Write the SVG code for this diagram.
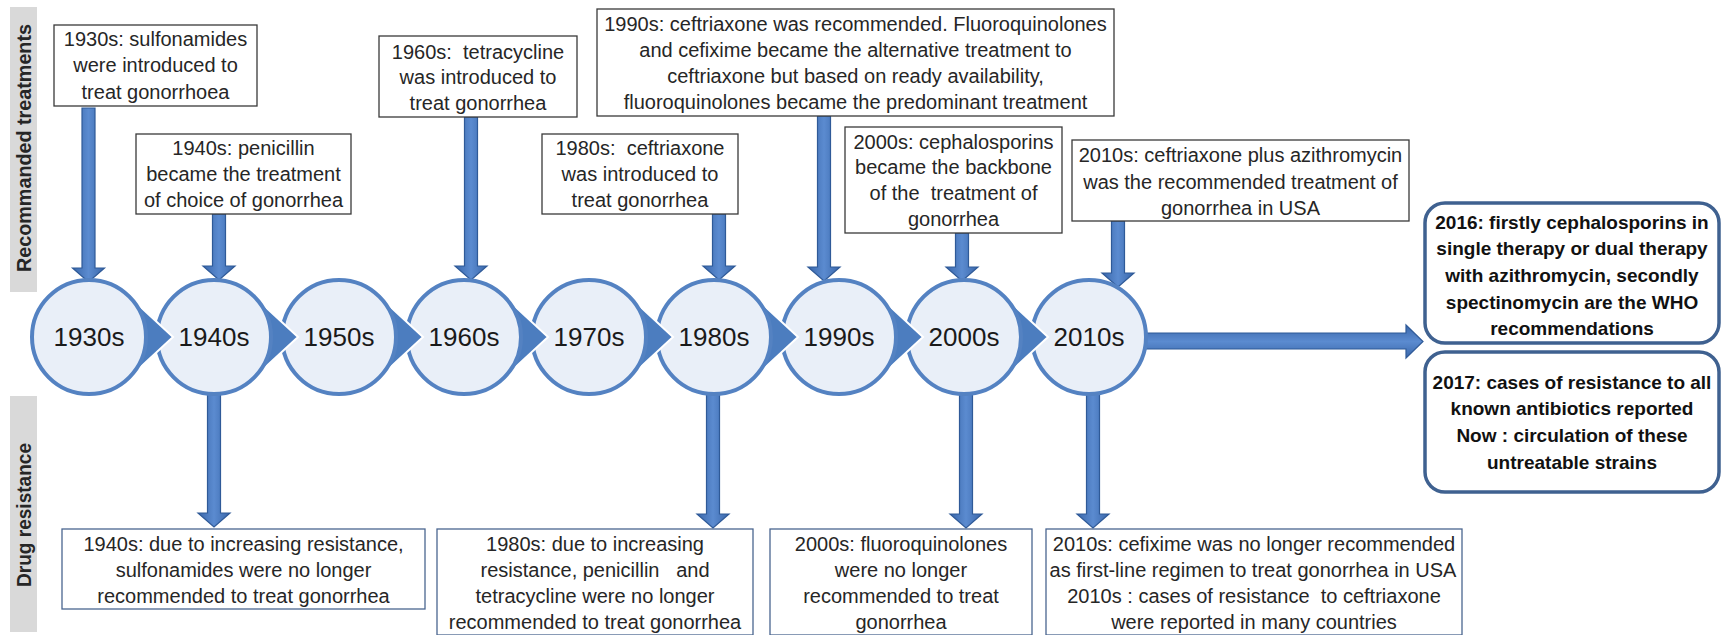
<svg xmlns="http://www.w3.org/2000/svg" width="1722" height="635" viewBox="0 0 1722 635">
<style>
.bar{fill:#d9d9d9}
.side{font-family:"Liberation Sans",Arial,sans-serif;font-weight:bold;font-size:20px;fill:#262626;text-anchor:middle}
.box{fill:#ffffff;stroke:#3a3a3a;stroke-width:1.3}
.boxb{fill:#ffffff;stroke:#4a6690;stroke-width:1.3}
.t{font-family:"Liberation Sans",Arial,sans-serif;font-size:20px;fill:#262626;text-anchor:middle}
.rb{fill:#ffffff;stroke:#3f6190;stroke-width:3.5}
.tb{font-family:"Liberation Sans",Arial,sans-serif;font-size:19px;font-weight:bold;fill:#111;text-anchor:middle}
.circ{fill:#e9eff8;stroke:#5482c2;stroke-width:4}
.ptr{fill:#4c7dbf;stroke:#ffffff;stroke-width:2;stroke-linejoin:miter}
.yr{font-family:"Liberation Sans",Arial,sans-serif;font-size:26px;fill:#1a1a1a;text-anchor:middle}
.arr{fill:url(#gv);stroke:#2f5a98;stroke-width:1.2}
.arrh{fill:url(#gh);stroke:#2f5a98;stroke-width:1.2}
</style>
<defs>
<linearGradient id="gv" x1="0" y1="0" x2="1" y2="0">
<stop offset="0" stop-color="#3a67aa"/><stop offset="0.5" stop-color="#5b8bd0"/><stop offset="1" stop-color="#3a67aa"/>
</linearGradient>
<linearGradient id="gh" x1="0" y1="0" x2="0" y2="1">
<stop offset="0" stop-color="#3a67aa"/><stop offset="0.5" stop-color="#5b8bd0"/><stop offset="1" stop-color="#3a67aa"/>
</linearGradient>
</defs>

<g id="side-labels">
<rect class="bar" x="10" y="7" width="27" height="285"/>
<text class="side" transform="translate(31,148) rotate(-90)" textLength="248" lengthAdjust="spacingAndGlyphs">Recommanded treatments</text>
<rect class="bar" x="10" y="396" width="27" height="236"/>
<text class="side" transform="translate(31,515) rotate(-90)" textLength="144" lengthAdjust="spacingAndGlyphs">Drug resistance</text>
</g>

<g id="connectors">
<path class="arr" d="M82,108 H95 V268 H104.5 L88.5,282 L72.5,268 H82 Z"/>
<path class="arr" d="M212.5,214 H225.5 V266 H235 L219,280 L203,266 H212.5 Z"/>
<path class="arr" d="M464.5,117 H477.5 V266 H487 L471,280 L455,266 H464.5 Z"/>
<path class="arr" d="M712.5,214 H725.5 V266 H735 L719,280 L703,266 H712.5 Z"/>
<path class="arr" d="M817.5,116 H830.5 V267 H840 L824,281 L808,267 H817.5 Z"/>
<path class="arr" d="M955.5,233 H968.5 V267 H978 L962,281 L946,267 H955.5 Z"/>
<path class="arr" d="M1111.5,221 H1124.5 V273 H1134 L1118,287 L1102,273 H1111.5 Z"/>
<path class="arr" d="M207.5,393 H220.5 V513 H230 L214,527 L198,513 H207.5 Z"/>
<path class="arr" d="M706.5,393 H719.5 V514 H729 L713,528 L697,514 H706.5 Z"/>
<path class="arr" d="M959.5,393 H972.5 V514 H982 L966,528 L950,514 H959.5 Z"/>
<path class="arr" d="M1086.5,393 H1099.5 V514 H1109 L1093,528 L1077,514 H1086.5 Z"/>
<path class="arrh" d="M1146,333 V349 H1406 V358 L1423,341.5 L1406,325 V333 Z"/>
</g>

<g id="timeline">
<g id="n2010s"><circle class="circ" cx="1089" cy="337" r="57"/><text class="yr" x="1089" y="346">2010s</text></g>
<g id="n2000s"><path class="ptr" d="M1002.7,295.1 L1048,337 L1002.7,378.9 Z"/><circle class="circ" cx="964" cy="337" r="57"/><text class="yr" x="964" y="346">2000s</text></g>
<g id="n1990s"><path class="ptr" d="M877.7,295.1 L923,337 L877.7,378.9 Z"/><circle class="circ" cx="839" cy="337" r="57"/><text class="yr" x="839" y="346">1990s</text></g>
<g id="n1980s"><path class="ptr" d="M752.7,295.1 L798,337 L752.7,378.9 Z"/><circle class="circ" cx="714" cy="337" r="57"/><text class="yr" x="714" y="346">1980s</text></g>
<g id="n1970s"><path class="ptr" d="M627.7,295.1 L673,337 L627.7,378.9 Z"/><circle class="circ" cx="589" cy="337" r="57"/><text class="yr" x="589" y="346">1970s</text></g>
<g id="n1960s"><path class="ptr" d="M502.7,295.1 L548,337 L502.7,378.9 Z"/><circle class="circ" cx="464" cy="337" r="57"/><text class="yr" x="464" y="346">1960s</text></g>
<g id="n1950s"><path class="ptr" d="M377.7,295.1 L423,337 L377.7,378.9 Z"/><circle class="circ" cx="339" cy="337" r="57"/><text class="yr" x="339" y="346">1950s</text></g>
<g id="n1940s"><path class="ptr" d="M252.7,295.1 L298,337 L252.7,378.9 Z"/><circle class="circ" cx="214" cy="337" r="57"/><text class="yr" x="214" y="346">1940s</text></g>
<g id="n1930s"><path class="ptr" d="M127.7,295.1 L173,337 L127.7,378.9 Z"/><circle class="circ" cx="89" cy="337" r="57"/><text class="yr" x="89" y="346">1930s</text></g>
</g>

<g id="rec1930s"><rect class="box" x="54" y="25" width="203" height="81"/>
<text class="t" x="155.5" y="46">1930s: sulfonamides</text>
<text class="t" x="155.5" y="72">were introduced to</text>
<text class="t" x="155.5" y="99">treat gonorrhoea</text></g>

<g id="rec1940s"><rect class="box" x="136" y="134" width="215" height="80"/>
<text class="t" x="243.5" y="155">1940s: penicillin</text>
<text class="t" x="243.5" y="181">became the treatment</text>
<text class="t" x="243.5" y="207">of choice of gonorrhea</text></g>

<g id="rec1960s"><rect class="box" x="379" y="36" width="198" height="81"/>
<text class="t" x="478" y="59" xml:space="preserve">1960s:  tetracycline</text>
<text class="t" x="478" y="84">was introduced to</text>
<text class="t" x="478" y="110">treat gonorrhea</text></g>

<g id="rec1980s"><rect class="box" x="542" y="134" width="196" height="80"/>
<text class="t" x="640" y="155" xml:space="preserve">1980s:  ceftriaxone</text>
<text class="t" x="640" y="181">was introduced to</text>
<text class="t" x="640" y="207">treat gonorrhea</text></g>

<g id="rec1990s"><rect class="box" x="597" y="9" width="517" height="107"/>
<text class="t" x="855.5" y="31">1990s: ceftriaxone was recommended. Fluoroquinolones</text>
<text class="t" x="855.5" y="57">and cefixime became the alternative treatment to</text>
<text class="t" x="855.5" y="83">ceftriaxone but based on ready availability,</text>
<text class="t" x="855.5" y="109">fluoroquinolones became the predominant treatment</text></g>

<g id="rec2000s"><rect class="box" x="845" y="127" width="217" height="106"/>
<text class="t" x="953.5" y="149">2000s: cephalosporins</text>
<text class="t" x="953.5" y="174">became the backbone</text>
<text class="t" x="953.5" y="200" xml:space="preserve">of the  treatment of</text>
<text class="t" x="953.5" y="226">gonorrhea</text></g>

<g id="rec2010s"><rect class="box" x="1072" y="140" width="337" height="81"/>
<text class="t" x="1240.5" y="162">2010s: ceftriaxone plus azithromycin</text>
<text class="t" x="1240.5" y="189">was the recommended treatment of</text>
<text class="t" x="1240.5" y="215">gonorrhea in USA</text></g>

<g id="who2016"><rect class="rb" x="1425" y="203" width="294" height="140" rx="20"/>
<text class="tb" x="1572" y="229">2016: firstly cephalosporins in</text>
<text class="tb" x="1572" y="255">single therapy or dual therapy</text>
<text class="tb" x="1572" y="282">with azithromycin, secondly</text>
<text class="tb" x="1572" y="309">spectinomycin are the WHO</text>
<text class="tb" x="1572" y="335">recommendations</text></g>

<g id="res2017"><rect class="rb" x="1425" y="352" width="294" height="140" rx="20"/>
<text class="tb" x="1572" y="389">2017: cases of resistance to all</text>
<text class="tb" x="1572" y="415">known antibiotics reported</text>
<text class="tb" x="1572" y="442">Now : circulation of these</text>
<text class="tb" x="1572" y="469">untreatable strains</text></g>

<g id="res1940s"><rect class="boxb" x="62" y="529" width="363" height="80"/>
<text class="t" x="243.5" y="551">1940s: due to increasing resistance,</text>
<text class="t" x="243.5" y="577">sulfonamides were no longer</text>
<text class="t" x="243.5" y="603">recommended to treat gonorrhea</text></g>

<g id="res1980s"><rect class="boxb" x="437" y="529" width="316" height="106"/>
<text class="t" x="595" y="551">1980s: due to increasing</text>
<text class="t" x="595" y="577" xml:space="preserve">resistance, penicillin   and</text>
<text class="t" x="595" y="603">tetracycline were no longer</text>
<text class="t" x="595" y="629">recommended to treat gonorrhea</text></g>

<g id="res2000s"><rect class="boxb" x="770" y="529" width="262" height="106"/>
<text class="t" x="901" y="551">2000s: fluoroquinolones</text>
<text class="t" x="901" y="577">were no longer</text>
<text class="t" x="901" y="603">recommended to treat</text>
<text class="t" x="901" y="629">gonorrhea</text></g>

<g id="res2010s"><rect class="boxb" x="1046" y="529" width="416" height="106"/>
<text class="t" x="1254" y="551">2010s: cefixime was no longer recommended</text>
<text class="t" x="1253" y="577">as first-line regimen to treat gonorrhea in USA</text>
<text class="t" x="1254" y="603" xml:space="preserve">2010s : cases of resistance  to ceftriaxone</text>
<text class="t" x="1254" y="629">were reported in many countries</text></g>
</svg>
